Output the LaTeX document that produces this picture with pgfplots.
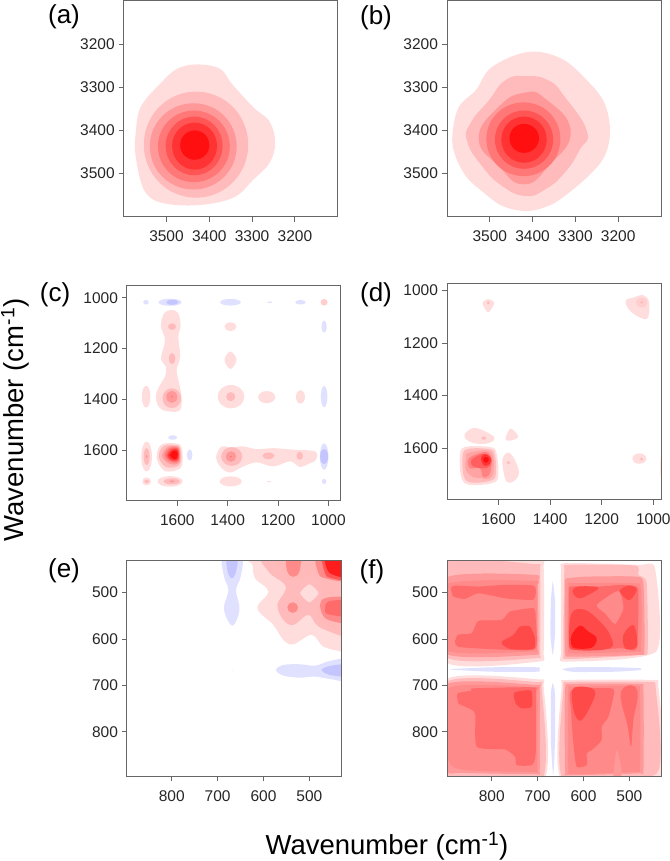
\documentclass[border=0pt]{standalone}
\usepackage{pgfplots}
\usepackage{fontspec}
\setmainfont{Liberation Sans}
\pgfplotsset{compat=1.18}
\definecolor{cA}{HTML}{FFDDDD}\definecolor{cB}{HTML}{FFBBBB}\definecolor{cC}{HTML}{FF9999}
\definecolor{cD}{HTML}{FF7777}\definecolor{cE}{HTML}{FF5555}\definecolor{cF}{HTML}{FF3333}
\definecolor{cG}{HTML}{FF0F0F}\definecolor{bA}{HTML}{E0E0FF}\definecolor{bB}{HTML}{C4C4FF}
\definecolor{fD}{HTML}{FF8A8A}\definecolor{fE}{HTML}{FF6A6A}\definecolor{fF}{HTML}{FF4A4A}\definecolor{fG}{HTML}{FF1C1C}
\definecolor{fr}{HTML}{666666}\definecolor{tx}{HTML}{262626}
\newcommand\pa[2]{\addplot[fill=#1,draw=none,smooth cycle,tension=0.6,no markers] coordinates {#2};}
\newcommand\pc[2]{\addplot[fill=#1,draw=none,smooth cycle,tension=0.85,no markers] coordinates {#2};}
\newcommand\pb[2]{\addplot[fill=#1,draw=none,smooth cycle,tension=0.35,no markers] coordinates {#2};}
\newcommand\bl[2]{\addplot[fill=#1,draw=none,smooth cycle,tension=1,no markers] coordinates {#2};}
\pgfplotsset{panel/.style={scale only axis,width=214pt,height=215.7pt,anchor=south west,
  x dir=reverse,y dir=reverse,axis on top,axis line style={fr,line width=1pt},
  tick style={fr,line width=0.8pt},major tick length=5pt,tick align=outside,
  xtick pos=lower,ytick pos=left,
  tick label style={font=\fontsize{15.5}{16}\selectfont,text=tx},
  /pgf/number format/assume math mode=true,/pgf/number format/1000 sep={},
  xticklabel style={yshift=-5.5pt},yticklabel style={xshift=-0.5pt}}}
\begin{document}
\begin{tikzpicture}[x=1pt,y=1pt]
\path[use as bounding box] (0,0) rectangle (669,861);
% (a)
\begin{axis}[panel,at={(123.7pt,644.3pt)},xmin=3100,xmax=3600,ymin=3100,ymax=3600,xtick={3200,3300,3400,3500},ytick={3200,3300,3400,3500}]
\pa{cA}{(3429,3247)(3375,3257)(3348,3291)(3297.5,3346)(3259,3379.5)(3246,3429)(3259,3475)(3297,3514)(3344,3556)(3429,3573.5)(3514,3567)(3553,3537)(3572,3460)(3572,3406)(3560,3345)(3514,3291)(3475,3257)}
\bl{cB}{(3553,3433)(3431,3310)(3309,3433)(3431,3556)}
\bl{cC}{(3539,3437)(3437,3337)(3336,3437)(3437,3537)}
\bl{cD}{(3520,3437)(3436,3354)(3352,3437)(3436,3520)}
\bl{cE}{(3502,3436)(3435,3368)(3369,3436)(3435,3504)}
\bl{cF}{(3487,3436)(3434,3382)(3382,3436)(3434,3491)}
\bl{cG}{(3468,3434)(3434,3400)(3400,3434)(3434,3468)}
\end{axis}
% (b)
\begin{axis}[panel,at={(447pt,644.3pt)},xmin=3100,xmax=3600,ymin=3100,ymax=3600,xtick={3200,3300,3400,3500},ytick={3200,3300,3400,3500}]
\pa{cA}{(3410,3218)(3332,3234)(3270,3287)(3232,3337)(3219,3402)(3232,3460)(3270,3506)(3325,3552)(3363,3575)(3413,3587)(3471,3575)(3518,3541)(3556,3506)(3583,3452)(3587,3406)(3572,3345)(3533,3307)(3495,3253)}
\pc{cB}{(3417,3274)(3363,3284)(3325,3322)(3273,3402)(3290,3445)(3325,3498)(3371,3537)(3417,3552)(3471,3529)(3518,3483)(3553,3425)(3545,3383)(3502,3330)(3464,3284)}
\pc{cC}{(3421,3313)(3371,3326)(3311,3402)(3363,3483)(3421,3525)(3479,3483)(3526,3418)(3479,3345)}
\bl{cD}{(3508,3420)(3421,3335)(3335,3420)(3421,3506)}
\bl{cE}{(3488,3421)(3420,3354)(3352,3421)(3420,3489)}
\bl{cF}{(3473,3421)(3420,3368)(3367,3421)(3420,3475)}
\bl{cG}{(3454,3418)(3420,3385)(3385,3418)(3420,3452)}
\end{axis}
% (c)
\begin{axis}[panel,at={(127pt,360.3pt)},xmin=950,xmax=1800,ymin=950,ymax=1800,xtick={1000,1200,1400,1600},ytick={1000,1200,1400,1600}]
\bl{bA}{(1735.5,1018)(1724.5,1009)(1713.5,1018)(1724.5,1027)}
\bl{bA}{(1675,1018)(1629,1004)(1583,1018)(1629,1032)}
\bl{bB}{(1644,1018)(1620,1008)(1596,1018)(1620,1028)}
\bl{bA}{(1430,1018)(1389,1005)(1348,1018)(1389,1031)}
\bl{bA}{(1243,1018)(1233,1015)(1223,1018)(1233,1021)}
\bl{bA}{(1132,1018)(1111,1009)(1090,1018)(1111,1027)}
\bl{cB!70!white}{(1031,1018)(1017,1005)(1003,1018)(1017,1031)}
\pa{cA}{(1622.5,1048.5)(1596,1062)(1587,1114)(1596,1153)(1589,1232)(1603,1285)(1596,1324)(1583,1390)(1589,1442)(1629,1449)(1669,1435)(1686,1390)(1669,1344)(1649,1311)(1646,1271)(1665,1239)(1649,1167)(1665,1114)(1653,1062)}
\bl{cB}{(1637,1114)(1621,1101)(1605,1114)(1621,1127)}
\bl{cB}{(1634,1240)(1621,1218)(1608,1240)(1621,1262)}
\bl{cB}{(1659,1396)(1622,1357)(1585,1396)(1622,1435)}
\bl{cC}{(1644,1391)(1622,1367)(1600,1391)(1622,1415)}
\bl{cD}{(1626,1390)(1622,1386)(1618,1390)(1622,1394)}
\bl{cA}{(1741,1390)(1724,1347)(1707,1390)(1724,1433)}
\bl{cA}{(1413,1114)(1389,1097)(1365,1114)(1389,1131)}
\pa{cA}{(1413,1245)(1389,1212)(1365,1245)(1389,1281)}
\bl{cA}{(1440,1390)(1387,1344)(1334,1390)(1387,1436)}
\bl{cB}{(1406,1390)(1388,1372)(1370,1390)(1388,1408)}
\bl{cA}{(1279,1392)(1245,1368)(1211,1392)(1245,1416)}
\bl{cA}{(1129,1391)(1111,1365)(1093,1391)(1111,1417)}
\bl{bA}{(1030,1390)(1017,1348)(1004,1390)(1017,1432)}
\bl{bA}{(1027,1114)(1017,1090)(1007,1114)(1017,1138)}
\bl{cA}{(1743,1626)(1722,1567)(1701,1626)(1722,1685)}
\bl{cB}{(1734,1626)(1722,1593)(1710,1626)(1722,1659)}
\bl{cC}{(1726,1626)(1722,1619)(1718,1626)(1722,1633)}
\pa{cA}{(1682,1630)(1665,1580)(1610,1574)(1583,1590)(1581,1660)(1610,1682)(1655,1680)}
\pa{cB}{(1674,1625)(1655,1585)(1610,1580)(1588,1592)(1586,1650)(1610,1668)(1650,1665)}
\pa{cC}{(1660,1622)(1640,1590)(1605,1585)(1591,1597)(1590,1645)(1610,1658)(1640,1650)}
\pa{cD}{(1650,1620)(1632,1593)(1603,1590)(1593,1600)(1593,1640)(1610,1650)(1635,1642)}
\pa{cE}{(1642,1620)(1625,1597)(1603,1594)(1595,1604)(1595,1635)(1610,1645)(1630,1638)}
\pa{cF}{(1637,1620)(1620,1600)(1603,1598)(1597,1608)(1597,1632)(1610,1640)(1628,1635)}
\pa{cG}{(1630,1620)(1615,1604)(1602,1606)(1599,1620)(1602,1632)(1615,1635)}
\bl{bA}{(1636.5,1551)(1618.5,1542)(1600.5,1551)(1618.5,1560)}
\bl{bA}{(1562,1620)(1551,1598)(1540,1620)(1551,1642)}
\pa{cA}{(1446,1626)(1424,1586)(1391,1590)(1338,1586)(1285,1597)(1219,1593)(1139,1599)(1053,1606)(1049,1639)(1073,1652)(1113,1667)(1152,1645)(1219,1665)(1285,1649)(1338,1665)(1391,1689)(1430,1665)}
\bl{cB}{(1426,1626)(1384,1589)(1342,1626)(1384,1663)}
\bl{cC}{(1408,1626)(1387,1605)(1366,1626)(1387,1647)}
\bl{cD}{(1391,1626)(1387,1622)(1383,1626)(1387,1630)}
\bl{cB}{(1262,1623)(1238,1610)(1214,1623)(1238,1636)}
\bl{cB}{(1127,1623)(1114,1607)(1101,1623)(1114,1639)}
\bl{bA}{(1034,1626)(1017,1574)(1000,1626)(1017,1678)}
\bl{bB}{(1033,1626)(1017,1597)(1001,1626)(1017,1655)}
\bl{cA}{(1739,1724)(1722,1708)(1705,1724)(1722,1740)}
\bl{cB}{(1731,1724)(1722,1717)(1713,1724)(1722,1731)}
\bl{cA}{(1679,1724)(1629,1703)(1579,1724)(1629,1745)}
\bl{cB}{(1654,1724)(1622,1712)(1590,1724)(1622,1736)}
\bl{cC}{(1631,1724)(1621,1720)(1611,1724)(1621,1728)}
\bl{cA}{(1432,1724)(1388,1704)(1344,1724)(1388,1744)}
\bl{cA}{(1246,1725)(1236,1723)(1226,1725)(1236,1727)}
\bl{bA}{(1026,1724)(1017,1714)(1008,1724)(1017,1734)}
\end{axis}
% (d)
\begin{axis}[panel,at={(447pt,361pt)},height=216.7pt,xmin=970,xmax=1800,ymin=972,ymax=1798,xtick={1000,1200,1400,1600},ytick={1000,1200,1400,1600}]
\pa{cA}{(1617,1045)(1627,1068)(1640,1083)(1653,1068)(1662,1045)(1640,1032)}
\bl{cB}{(1646,1046)(1640,1040)(1634,1046)(1640,1052)}
\pa{cA}{(1038,1017)(1016,1045)(1023,1106)(1064,1096)(1096,1070)(1107,1038)(1077,1026)}
\bl{cB!70!white}{(1068,1045)(1045,1026)(1022,1045)(1045,1064)}
\bl{cB}{(1051,1045)(1045,1039)(1039,1045)(1045,1051)}
\pa{cA}{(1685,1524)(1627,1550)(1617,1569)(1653,1584)(1705,1579)(1733,1556)(1718,1533)}
\bl{cB}{(1667,1562)(1657,1556)(1647,1562)(1657,1568)}
\pa{cA}{(1552,1526)(1524,1556)(1550,1571)(1572,1569)(1569,1550)}
\pa{cA}{(1562,1617)(1537,1645)(1521,1696)(1543,1728)(1569,1728)(1582,1684)(1584,1639)}
\bl{cB}{(1569,1656)(1562,1649)(1555,1656)(1562,1663)}
\bl{cA}{(1081,1640)(1054,1620)(1027,1640)(1054,1660)}
\bl{cB}{(1051,1642)(1045,1636)(1039,1642)(1045,1648)}
\bl{cA!60!white}{(974,1675)(970,1640)(966,1675)(970,1710)}
\pa{cA}{(1730.8,1596.2)(1633.8,1596.2)(1607.9,1619.2)(1601.4,1708.5)(1627.3,1734)(1711.4,1740.4)(1743.7,1714.9)(1750.2,1632)}
\pa{cB}{(1721.7,1603.9)(1636.4,1603.9)(1614.4,1625.6)(1610.5,1702.1)(1633.8,1725.1)(1704.9,1731.5)(1734.7,1708.5)(1739.8,1634.5)}
\pa{cC!70!cB}{(1717.9,1619.2)(1646.7,1609)(1620.8,1632)(1620.8,1695.8)(1640.2,1718.7)(1666.1,1714.9)(1698.5,1711)(1726.9,1683)(1726.9,1638)}
\pa{cD!70!cC}{(1714,1638.3)(1653.2,1615.4)(1627.3,1634.5)(1627.3,1663.9)(1636.4,1702.1)(1659.7,1711)(1672.6,1676.6)(1711.4,1676.6)}
\pa{cE!70!cD}{(1705,1644.7)(1659.7,1621.8)(1631.2,1634.5)(1628.6,1657.5)(1646.7,1676.6)(1698.5,1670.2)}
\pa{cF}{(1666.1,1632)(1649.3,1623)(1631.2,1638.3)(1633.8,1660)(1653.2,1667.7)(1666.1,1651.1)}
\bl{cG}{(1660,1644.7)(1649.3,1634)(1638,1644.7)(1649.3,1656)}
\end{axis}
% (e)
\begin{axis}[panel,at={(127pt,84.7pt)},xmin=431,xmax=897.5,ymin=431,ymax=896,xtick={500,600,700,800},ytick={500,600,700,800}]
\pa{bA}{(688.9,420)(686,465.4)(676.5,494.2)(686,530.2)(680.1,555.3)(667.8,571.2)(656.9,555.3)(652.5,530.2)(659.8,494.2)(649.6,465.4)(647.5,420)}
\pa{bB}{(680,420)(678,454.6)(669.2,469)(659.8,454.6)(656.9,420)}
\pa{bA}{(572.6,666.8)(556.6,656)(520.3,654.5)(487.6,657.4)(454.9,647.3)(418.6,645.2)(418.6,688.3)(454.9,686.2)(487.6,681.1)(520.3,683.3)(556.6,679)}
\pa{bB}{(473,666.8)(454.9,658.1)(418.6,656)(418.6,679)(454.9,677.5)}
\pa{cA}{(629.3,418.6)(624,440)(618.4,469)(589.3,497.7)(613.3,533.7)(578.4,569.7)(556.6,602)(534.8,611.4)(494.9,591.2)(469.4,616.4)(431,627)(418.6,630.8)(418.6,418.6)}
\pa{cB}{(593,418.6)(589.3,454.6)(551.5,487)(569.7,526.5)(556.6,558.9)(534.8,569.7)(502.1,548)(480.3,573.2)(431,593.4)(418.6,598.4)(418.6,418.6)}
\pa{fD!60!white}{(563.9,418.6)(560.3,451)(545.7,472)(520,472)(498,463)(476.7,482)(472,512)(487,541)(469.4,566)(431,587)(418.6,591)(418.6,418.6)}
\pb{cA}{(520,501)(500,482)(480,501)(500,521)}
\bl{fD}{(548,532.3)(536.3,520.8)(524.7,532.3)(536.3,543.8)}
\pa{fD}{(549.4,418.6)(548,454.6)(534.8,466)(521.8,454.6)(520.3,418.6)}
\pa{fD}{(482.5,418.6)(480.3,458)(465.8,469)(431,476)(418.6,476)(418.6,418.6)}
\pa{fD}{(476.7,526.5)(465.8,512)(431,508.5)(418.6,508.5)(418.6,569.7)(431,566)(465.8,555)}
\pa{cE}{(469.4,418.6)(465.8,458)(451.3,469)(418.6,469)(418.6,418.6)}
\pa{fE}{(465.8,537.3)(458.5,519.3)(418.6,519.3)(418.6,549.5)(458.5,546.6)}
\pa{fG}{(463.6,418.6)(460.7,451)(444,463.2)(418.6,463.2)(418.6,418.6)}
\bl{cA}{(669,666.8)(667.8,665.5)(666.6,666.8)(667.8,668)}
\end{axis}
% (f)
\begin{axis}[panel,at={(447pt,84.7pt)},xmin=431,xmax=897.5,ymin=431,ymax=896,xtick={500,600,700,800},ytick={500,600,700,800}]
% top left
\pb{cA}{(901.8,418.6)(698.3,429.4)(686.7,447.4)(686.7,627.2)(698.3,648.8)(901.8,648.8)}
\pb{cB}{(901.8,436.6)(705.6,438.7)(694.7,451)(694.7,627.2)(705.6,641.6)(901.8,638)}
\pb{cC}{(901.8,469)(705.6,461.8)(699.8,483.3)(698.3,620)(709.2,634.4)(901.8,630.8)}
\pb{fD}{(901.8,483.3)(707,474.7)(702,490.5)(702,620)(711.4,627.2)(901.8,623.6)}
\pb{fE}{(888.7,490.5)(880,484.8)(829.1,487)(771,483.3)(709.2,484.8)(704.1,501.3)(711.4,515.7)(771,512.1)(829.1,501.3)(858.2,513.5)(883.6,508.5)}
\pb{fE}{(874.2,591.2)(843.7,587.6)(829.1,561)(778.3,558.9)(760.1,540.9)(709.2,533.7)(704.1,555.3)(704.1,620)(756.5,623.6)(874.2,616.4)}
\pb{fF}{(778.3,605.6)(752.8,591.2)(738.3,573.2)(716.5,573.2)(705.6,598.4)(709.2,621.4)(756.5,622.2)(774.6,614.2)}
% top right
\pb{cA}{(640.2,436.6)(480.3,440.2)(444,447.4)(441.8,627.2)(640.2,648.8)(648.9,627.2)(648.9,454.6)}
\pb{cB}{(641.7,454.6)(632.9,440.2)(487.6,441.6)(480.3,461.8)(462.2,479.7)(460,623.6)(473,634.4)(632.9,643)(643.8,627.2)}
\pb{cC}{(640.2,479.7)(632.9,469)(589.3,465.4)(487.6,465.4)(469.4,479.7)(467.2,623.6)(480.3,634.4)(625.7,638)(640.2,627.2)}
\pb{fD}{(632.9,483.3)(625.7,479.7)(491.2,479.7)(474.5,490.5)(474.5,620)(487.6,627.2)(618.4,630.8)(634.4,620)}
\pb{fE}{(627.1,487)(567.5,487)(516.7,483.3)(484,487)(480.3,504.9)(484,620)(516.7,620)(618.4,623.6)(631.5,612.8)(631.5,497.7)}
\pb{fD}{(571.2,526.5)(523.9,496.3)(513,533.7)(531.2,567.5)(553,544.5)}
\pa{fF}{(624.2,497.7)(611.1,487)(567.5,489.1)(589.3,504.9)(611.1,512.1)}
\pa{fF}{(520.3,494.1)(498.5,484.8)(484,494.1)(498.5,515.7)(513,508.5)}
\pa{fF}{(625.7,544.5)(596.6,537.3)(563.9,562.5)(542.1,591.2)(542.1,620)(618.4,623.6)(631.5,605.6)}
\pa{fF}{(513,591.2)(491.2,569.7)(482.5,605.6)(487.6,620)(509.4,620)}
\pa{fG}{(625.7,591.2)(607.5,571.1)(589.3,584)(571.2,598.4)(582.1,618.6)(618.4,620)(627.1,609.2)}
% bottom left
\pb{cA}{(901.8,688.4)(698.3,687)(686.7,702.8)(686.7,904.2)(901.8,904.2)}
\pb{cB}{(901.8,694.1)(702,692.7)(691.1,706.4)(691.1,904.2)(901.8,904.2)}
\pb{cC}{(901.8,699.2)(702,699.2)(695.4,710)(695.4,882.6)(705.6,891.2)(865.5,888.4)(901.8,879)}
\pb{fD}{(894.5,706.4)(705.6,704.2)(700.5,717.2)(700.5,879)(712.9,886.2)(858.2,882.6)(894.5,861)}
\pb{fE}{(874.2,717.2)(843.7,711.4)(840,706.4)(709.2,704.2)(704.1,717.2)(704.1,846.6)(712.9,871.8)(745.6,871.8)(749.2,853.8)(771,838)(832.8,832.2)(836.4,760.3)(858.2,745.9)(872.7,738.7)}
\pb{fF}{(750.7,715.7)(714.3,711.4)(712.9,745.9)(734.7,749.5)(747.7,738.7)}
% bottom right
\pb{cA}{(647.5,702.8)(636.6,688.4)(451.2,688.4)(436.7,702.8)(433.1,904.2)(647.5,904.2)}
\pb{cB}{(643.8,706.4)(631.5,692.7)(458.5,692.7)(442.5,706.4)(440.3,889.8)(643.8,904.2)}
\pb{cC}{(640.2,710)(625.7,697)(480.3,697)(469.4,710)(469.4,882.6)(480.3,889.8)(632.9,893.4)(640.2,882.6)}
\pb{fD}{(632.9,710)(622,702.8)(487.6,701.3)(476.7,713.6)(476.7,875.4)(487.6,886.2)(622,891.2)(632.9,879)}
\pb{fE}{(625.7,710)(538.4,706.4)(534.8,724.3)(545.7,767.5)(560.3,789)(560.3,817.9)(582,839.4)(592.9,846.6)(592.9,871.8)(614.8,875.4)(622,825)(627.1,753.1)}
\pa{fE}{(518.1,713.6)(505.8,701.3)(487.6,702.8)(481.8,724.3)(491.2,774.7)(496.3,832.2)(503.6,789)(516.7,738.7)}
\pb{cC}{(534.8,897)(527.6,839.4)(516.7,882.6)(520.3,904)}
\pa{fF}{(624.2,710)(611,702.8)(582.1,706.4)(574.8,720.7)(593,760.3)(607.5,776.1)(618.4,763.9)(624.2,738.7)}
% negative bands
\pb{bA}{(667,476)(671,520)(672,590)(667,634)(662,590)(662,520)}
\pb{bA}{(667,695)(671,720)(671,820)(666,893)(662,820)(662,720)}
\pb{bA}{(892,665.5)(800,661)(700,661)(696.9,665.5)(700,670.5)(800,670.5)}
\pb{bA}{(646,665.5)(620,661)(530,661)(477,663)(476,667)(530,670.5)(620,671)}
\end{axis}
\node[text=black,font=\fontsize{26}{28}\selectfont] at (64,844) {(a)};
\node[text=black,font=\fontsize{26}{28}\selectfont] at (376,843) {(b)};
\node[text=black,font=\fontsize{26}{28}\selectfont] at (55,566) {(c)};
\node[text=black,font=\fontsize{26}{28}\selectfont] at (376,566) {(d)};
\node[text=black,font=\fontsize{26}{28}\selectfont] at (64,290) {(e)};
\node[text=black,font=\fontsize{26}{28}\selectfont] at (372,289) {(f)};
\node[text=black,font=\fontsize{27.5}{28}\selectfont,rotate=90] at (15,441) {Wavenumber (cm\textsuperscript{-1})};
\node[text=black,font=\fontsize{27.5}{28}\selectfont] at (387,14.5) {Wavenumber (cm\textsuperscript{-1})};
\end{tikzpicture}
\end{document}
